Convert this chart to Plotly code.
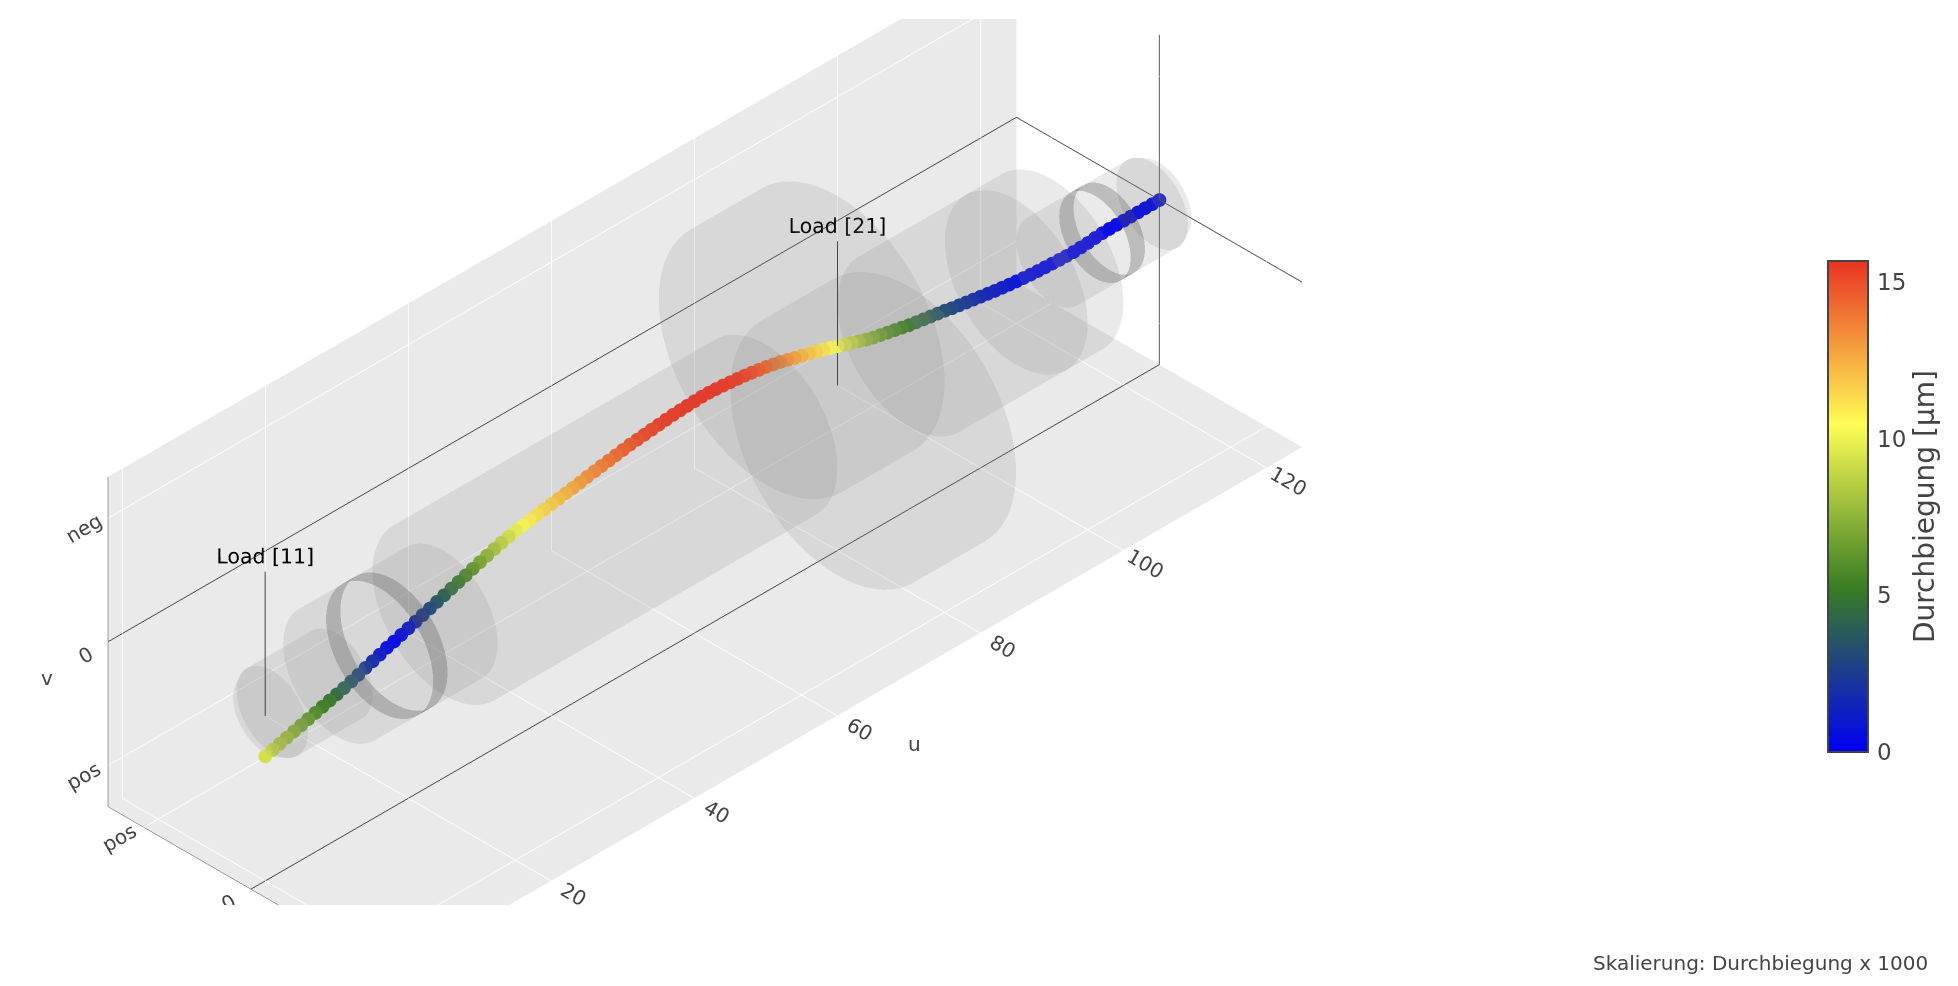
import numpy as np
import plotly.graph_objects as go

# shaft stations along the axis
u_pos = list(range(0, 126))
# displayed deflection (up = "neg" side of the v axis)
v_disp = [-4.86,-4.6,-4.35,-4.1,-3.85,-3.6,-3.35,-3.1,-2.85,-2.6,-2.35,-2.1,-1.8,-1.5,-1.15,-0.85,-0.55,-0.2,0.05,0.35,
          0.65,0.95,1.25,1.55,1.85,2.15,2.45,2.75,3.05,3.35,3.65,3.95,4.25,4.5,4.75,4.95,5.1,5.25,5.4,5.55,
          5.7,5.85,6.0,6.15,6.3,6.5,6.65,6.8,6.95,7.1,7.25,7.4,7.5,7.6,7.7,7.8,7.9,8.0,8.05,8.1,
          8.15,8.2,8.18,8.12,8.05,7.95,7.85,7.75,7.6,7.45,7.3,7.1,6.9,6.65,6.4,6.15,5.9,5.65,5.4,5.1,
          4.8,4.5,4.2,3.9,3.6,3.35,3.15,2.95,2.75,2.55,2.35,2.2,2.05,1.9,1.75,1.6,1.4,1.25,1.1,0.95,
          0.8,0.65,0.5,0.38,0.25,0.15,0.05,-0.03,-0.1,-0.15,-0.2,-0.25,-0.28,-0.3,-0.25,-0.2,-0.1,-0.02,0,0,
          0,0,0,0,0,0]
# deflection magnitude in micrometres (marker colour)
defl_um = [9.3,8.9,8.4,8.0,7.5,7.0,6.5,5.9,5.4,5.0,4.5,4.0,3.5,2.9,2.3,1.7,1.0,0.4,0.2,0.7,
           1.3,1.9,2.5,3.0,3.6,4.1,4.7,5.2,5.8,6.4,7.0,7.6,8.2,8.8,9.4,10.0,10.4,10.8,11.1,11.4,
           11.7,12.0,12.3,12.6,12.9,13.2,13.4,13.7,14.0,14.2,14.5,14.7,14.9,15.1,15.2,15.3,15.4,15.45,15.5,15.55,
           15.6,15.6,15.6,15.55,15.5,15.4,15.3,15.1,14.9,14.6,14.3,13.9,13.5,13.1,12.7,12.2,11.8,11.4,11.0,10.6,
           10.2,9.6,9.0,8.4,7.8,7.3,6.8,6.3,5.9,5.5,5.1,4.7,4.3,3.9,3.5,3.1,2.8,2.5,2.2,1.9,
           1.6,1.3,1.1,0.9,0.7,0.5,0.4,0.3,0.25,0.2,0.2,0.25,0.3,0.3,0.25,0.2,0.1,0.05,0.1,0.2,
           0.3,0.4,0.5,0.6,0.7,0.8]

# stepped shaft segments
seg_u_start = [0, 1, 10, 25, 70, 80, 90, 105, 110, 124]
seg_u_end   = [1, 10, 25, 70, 80, 90, 105, 110, 124, 125]
seg_r_start = [4.5, 5, 7.5, 10, 15, 15, 10, 10, 5, 5]
seg_r_end   = [5, 5, 7.5, 10, 15, 15, 10, 10, 5, 4.5]
seg_offset  = [0, 0, 0, 0, 8, -8, 0, 0, 0, 0]

# bearing rings
ring_u_start = [16, 116]
ring_u_end   = [18, 118]
ring_r       = [7.5, 5]

# loads
load_u = [0, 80]
load_len = [17.5, 17.5]
load_label_pos = [19.3, 19.3]
load_text = ["Load [11]", "Load [21]"]

colorscale = [[0, "#0000F5"], [1/3, "#377D22"], [2/3, "#FFFD55"], [1, "#EA3323"]]
N = 72
FONT = "DejaVu Sans, Verdana, sans-serif"


def shell(us, rs, off, color, opacity):
    t = np.linspace(0, 2*np.pi, N+1)
    x = np.array([[a]*(N+1) for a in us], dtype=float)
    y = np.array([b*np.cos(t) for b in rs])
    z = np.array([b*np.sin(t) for b in rs]) + off
    return go.Surface(x=x, y=y, z=z, surfacecolor=np.zeros_like(z), cmin=0, cmax=1,
                      colorscale=[[0, color], [1, color]], opacity=opacity, showscale=False,
                      hoverinfo="skip", contours=dict(x=dict(highlight=False), y=dict(highlight=False), z=dict(highlight=False)),
                      lighting=dict(ambient=0.95, diffuse=0.1, specular=0, roughness=1, fresnel=0),
                      lightposition=dict(x=-1000, y=-1000, z=1000))


fig = go.Figure()
for s in range(len(seg_u_start)-1, -1, -1):
    u0, u1, r0, r1, off = seg_u_start[s], seg_u_end[s], seg_r_start[s], seg_r_end[s], seg_offset[s]
    fig.add_trace(shell([u1, u1], [0, r1], off, "#8a8a8a", 0.09))
    fig.add_trace(shell([u0, u1], [r0, r1], off, "#8a8a8a", 0.09))
    fig.add_trace(shell([u0, u0], [0, r0], off, "#8a8a8a", 0.09))
    for q in range(len(ring_u_start)):
        if u0 <= ring_u_start[q] < u1:
            fig.add_trace(shell([ring_u_start[q], ring_u_end[q]], [ring_r[q], ring_r[q]], 0, "#555555", 0.3))

fig.add_trace(go.Scatter3d(
    x=u_pos, y=[0]*len(u_pos), z=v_disp, mode="lines+markers", hoverinfo="skip", showlegend=False,
    line=dict(color=defl_um, cmin=0, cmax=15.66, colorscale=colorscale, width=8),
    marker=dict(size=8, color=defl_um, cmin=0, cmax=15.66, colorscale=colorscale, line=dict(width=0),
                colorbar=dict(title=dict(text="Durchbiegung [µm]", side="right", font=dict(size=28, color="#444", family=FONT)),
                              tickvals=[0, 5, 10, 15], ticks="outside", ticklen=4, tickcolor="rgba(0,0,0,0)", len=0.5065, lenmode="fraction", thickness=40,
                              x=1834.5/1958, xanchor="left", xpad=0, y=0.486, yanchor="middle", ypad=0,
                              outlinecolor="#444", outlinewidth=2, borderwidth=0,
                              tickfont=dict(size=23, color="#444", family=FONT)))))

for s in range(len(load_u)):
    fig.add_trace(go.Scatter3d(
        x=[load_u[s]]*2, y=[0, 0], z=[0, load_len[s]], mode="lines",
        line=dict(color="black", width=1.5), hoverinfo="skip", showlegend=False))
    fig.add_trace(go.Scatter3d(
        x=[load_u[s]], y=[0], z=[load_label_pos[s]], mode="text", text=[load_text[s]],
        textposition="middle center", textfont=dict(size=20.5, color="black", family=FONT),
        hoverinfo="skip", showlegend=False))

ax = dict(gridcolor="white", showspikes=False, ticks="outside", ticklen=14, tickcolor="white",
          tickfont=dict(size=15.5, color="#444", family=FONT),
          showbackground=True, backgroundcolor="rgb(234,234,234)")
zl = dict(zeroline=True, zerolinecolor="#444", zerolinewidth=2, showline=True, linecolor="#444", linewidth=1)
title_font = dict(size=20, color="#444", family=FONT)
fig.update_layout(
    margin=dict(l=0, r=0, t=0, b=0), paper_bgcolor="white", showlegend=False,
    scene=dict(
        domain=dict(x=[0, 1327/1958], y=[74/986, 975/986]),
        aspectmode="manual", aspectratio=dict(x=2.90, y=0.912, z=0.912),
        camera=dict(projection=dict(type="orthographic"), up=dict(x=0, y=0, z=1),
                    eye=dict(x=-1.0624, y=-0.9376, z=1), center=dict(x=-0.0624, y=0.0624, z=0)),
        xaxis=dict(ax, title=dict(text=""), range=[-2, 125], tickvals=[0, 20, 40, 60, 80, 100, 120],
                   showbackground=False, zeroline=False, showline=False),
        yaxis=dict(ax, title=dict(text=""), range=[-20, 20], tickvals=[-15, 0, 15], ticktext=["neg", "0", "pos"], **zl),
        zaxis=dict(ax, title=dict(text=""), range=[-20, 20], tickvals=[-15, 0, 15], ticktext=["pos", "0", "neg"], **zl),
    ),
    annotations=[
        dict(text="Skalierung: Durchbiegung x 1000", xref="paper", yref="paper", x=1938/1958, y=1-971/986,
             xanchor="right", yanchor="middle", showarrow=False, font=dict(size=20, color="#444", family=FONT)),
        dict(text="u", xref="paper", yref="paper", x=914/1958, y=1-748/986, xanchor="center", yanchor="middle",
             showarrow=False, font=title_font),
        dict(text="v", xref="paper", yref="paper", x=39/1958, y=1-681/986, xanchor="center", yanchor="middle",
             showarrow=False, font=title_font),
    ],
)
# The eccentric discs reach past the axis box in the reference, so the scene must not clip them.
post = """
var gd = document.getElementById('{plot_id}');
var s = gd._fullLayout.scene._scene.glplot;
s.clipToBounds = false;
var inf = [[-Infinity,-Infinity,-Infinity],[Infinity,Infinity,Infinity]];
s.objects.forEach(function(o){ o.clipBounds = inf; });
s.redraw();
"""
fig.write_html("out.html", post_script=post)
